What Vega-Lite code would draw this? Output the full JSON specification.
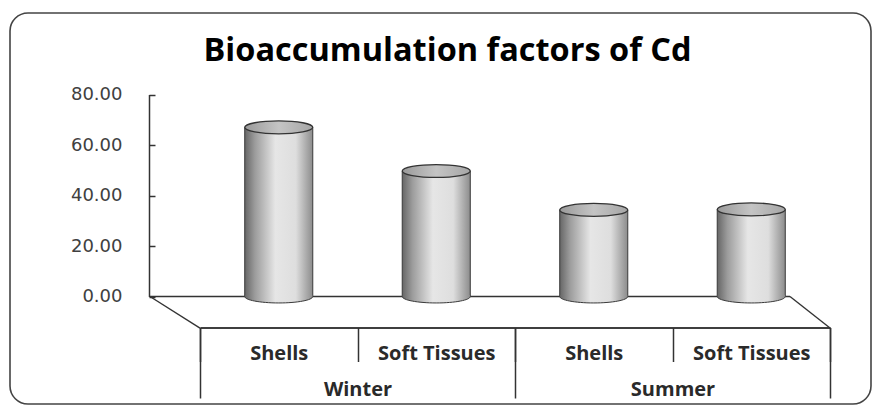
{
  "$schema": "https://vega.github.io/schema/vega-lite/v6.json",
  "width": 861,
  "height": 391,
  "autosize": {"type": "none"},
  "padding": {"left": 10, "top": 13, "right": 2, "bottom": 2},
  "background": "white",
  "title": {
    "text": "Bioaccumulation factors of Cd",
    "font": "Open Sans",
    "fontWeight": "bold",
    "fontSize": 32.5,
    "color": "#000000",
    "anchor": "middle",
    "offset": -54,
    "dx": 7
  },
  "config": {
    "view": {"stroke": "#444444", "strokeWidth": 1.6, "cornerRadius": 18},
    "axis": {"grid": false, "domainColor": "#333333", "tickColor": "#333333", "domainWidth": 1.5, "tickWidth": 1.5, "labelColor": "#2a2a2a"}
  },
  "data": {
    "values": [
      {"season": "Winter", "tissue": "Shells", "key": "Winter|Shells", "baf": 67.0},
      {"season": "Winter", "tissue": "Soft Tissues", "key": "Winter|Soft Tissues", "baf": 49.7},
      {"season": "Summer", "tissue": "Shells", "key": "Summer|Shells", "baf": 34.3},
      {"season": "Summer", "tissue": "Soft Tissues", "key": "Summer|Soft Tissues", "baf": 34.5}
    ]
  },
  "resolve": {"scale": {"x": "independent"}, "axis": {"x": "independent"}},
  "layer": [
    {
      "data": {"values": [{}]},
      "mark": {"type": "rule", "color": "#333333", "strokeWidth": 1.4},
      "encoding": {
        "x": {"datum": "floor", "type": "nominal", "bandPosition": -0.0794, "scale": {"type": "band", "range": [190, 820], "paddingInner": 0, "paddingOuter": 0}, "axis": null},
        "x2": {"datum": "floor", "bandPosition": 0.9365},
        "y": {"datum": 0, "type": "quantitative"}
      }
    },
    {
      "data": {"values": [{}]},
      "mark": {"type": "rule", "color": "#333333", "strokeWidth": 1.4},
      "encoding": {
        "x": {"datum": "floor", "type": "nominal", "bandPosition": -0.0794, "scale": {"type": "band", "range": [190, 820], "paddingInner": 0, "paddingOuter": 0}, "axis": null},
        "x2": {"datum": "floor", "bandPosition": 0},
        "y": {"datum": 0, "type": "quantitative"},
        "y2": {"datum": -12.5}
      }
    },
    {
      "data": {"values": [{}]},
      "mark": {"type": "rule", "color": "#333333", "strokeWidth": 1.4},
      "encoding": {
        "x": {"datum": "floor", "type": "nominal", "bandPosition": 0.9365, "scale": {"type": "band", "range": [190, 820], "paddingInner": 0, "paddingOuter": 0}, "axis": null},
        "x2": {"datum": "floor", "bandPosition": 1},
        "y": {"datum": 0, "type": "quantitative"},
        "y2": {"datum": -12.5}
      }
    },
    {
      "mark": {
        "type": "bar",
        "stroke": "#3a3a3a",
        "strokeWidth": 1,
        "fill": {"gradient": "linear", "x1": 0, "y1": 0, "x2": 1, "y2": 0, "stops": [
          {"offset": 0, "color": "#666666"},
          {"offset": 0.15, "color": "#9c9c9c"},
          {"offset": 0.45, "color": "#e6e6e6"},
          {"offset": 0.75, "color": "#dedede"},
          {"offset": 1, "color": "#8c8c8c"}
        ]}
      },
      "encoding": {
        "x": {
          "field": "season", "type": "nominal", "sort": ["Winter", "Summer"],
          "scale": {"type": "band", "range": [190, 820], "paddingInner": 0, "paddingOuter": 0},
          "axis": {
            "orient": "bottom", "title": null, "offset": -76.5, "labelAngle": 0,
            "tickBand": "extent", "tickSize": 70.5, "labelPadding": -19,
            "labelFont": "Open Sans", "labelFontWeight": "bold", "labelFontSize": 20
          }
        },
        "xOffset": {"field": "tissue", "type": "nominal", "sort": ["Shells", "Soft Tissues"], "scale": {"paddingInner": 0.568, "paddingOuter": 0.284}},
        "y": {
          "field": "baf", "type": "quantitative",
          "scale": {"domain": [0, 80], "range": [283.5, 81.5], "nice": false},
          "axis": {
            "title": null, "orient": "left", "offset": -139,
            "values": [0, 20, 40, 60, 80], "format": ".2f",
            "tickSize": -6, "labelPadding": 33,
            "labelFont": "DejaVu Sans", "labelFontSize": 18, "labelColor": "#404040"
          }
        }
      }
    },
    {
      "mark": {
        "type": "point", "filled": true, "opacity": 1, "size": 4624, "strokeWidth": 0,
        "shape": "M-1,0A1,0.19,0,1,0,1,0A1,0.19,0,1,0,-1,0Z",
        "fill": {"gradient": "linear", "x1": 0, "y1": 0, "x2": 1, "y2": 0, "stops": [
          {"offset": 0, "color": "#666666"},
          {"offset": 0.15, "color": "#9c9c9c"},
          {"offset": 0.45, "color": "#e6e6e6"},
          {"offset": 0.75, "color": "#dedede"},
          {"offset": 1, "color": "#8c8c8c"}
        ]}
      },
      "encoding": {
        "x": {
          "field": "key", "type": "nominal", "sort": null,
          "scale": {"type": "band", "range": [190, 820], "paddingInner": 0, "paddingOuter": 0},
          "axis": {
            "orient": "bottom", "title": null, "offset": -76.5, "labelAngle": 0,
            "labelExpr": "split(datum.label, '|')[1]",
            "tickBand": "extent", "tickSize": 34, "labelPadding": -18,
            "labelFont": "Open Sans", "labelFontWeight": "bold", "labelFontSize": 20
          }
        },
        "y": {"datum": 0, "type": "quantitative"}
      }
    },
    {
      "mark": {
        "type": "point", "filled": false, "opacity": 1, "size": 4624, "strokeWidth": 1, "color": "#3a3a3a",
        "shape": "M-1,0A1,0.19,0,0,0,1,0"
      },
      "encoding": {
        "x": {
          "field": "key", "type": "nominal", "sort": null,
          "scale": {"type": "band", "range": [190, 820], "paddingInner": 0, "paddingOuter": 0},
          "axis": null
        },
        "y": {"datum": 0, "type": "quantitative"}
      }
    },
    {
      "mark": {
        "type": "point", "filled": true, "opacity": 1, "size": 4624, "stroke": "#333333", "strokeWidth": 1.3,
        "shape": "M-1,0A1,0.19,0,1,0,1,0A1,0.19,0,1,0,-1,0Z",
        "fill": {"gradient": "linear", "x1": 0, "y1": 0, "x2": 1, "y2": 0, "stops": [
          {"offset": 0, "color": "#9a9a9a"},
          {"offset": 0.5, "color": "#c4c4c4"},
          {"offset": 1, "color": "#a6a6a6"}
        ]}
      },
      "encoding": {
        "x": {
          "field": "key", "type": "nominal", "sort": null,
          "scale": {"type": "band", "range": [190, 820], "paddingInner": 0, "paddingOuter": 0},
          "axis": null
        },
        "y": {"field": "baf", "type": "quantitative"}
      }
    }
  ]
}
